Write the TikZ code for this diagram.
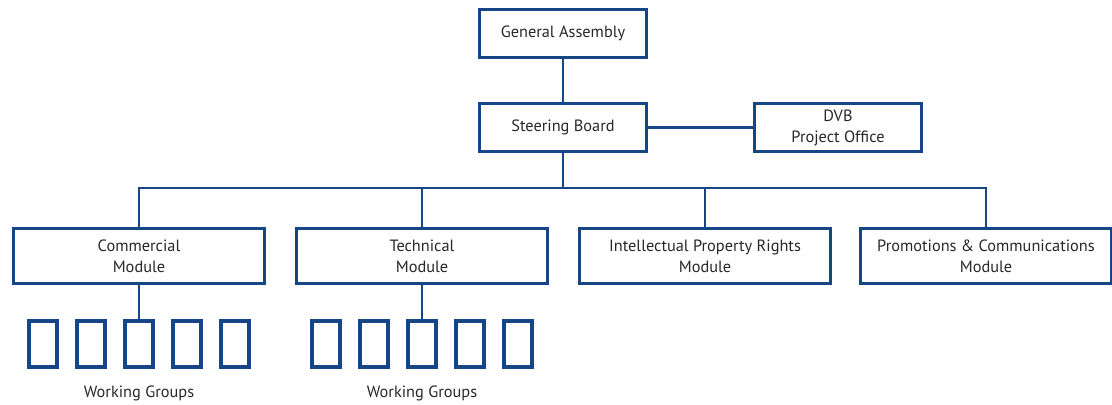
\documentclass[tikz,border=0pt]{standalone}
\usepackage{fontspec}
\setmainfont{PT Sans}
\usepackage{tikz}
\usetikzlibrary{positioning,calc}
\definecolor{navy}{RGB}{22,70,134}
\definecolor{ink}{RGB}{40,40,40}

\begin{document}
\begin{tikzpicture}[x=0.02cm,y=-0.02cm,
    unit/.style={draw=navy,line width=2.1pt,fill=white,text=ink,align=center,
      font=\fontsize{9.3}{12}\selectfont,inner sep=0pt},
    topbox/.style={unit,minimum width=3.34cm,minimum height=0.96cm},
    modbox/.style={unit,minimum width=5.02cm,minimum height=1.1cm},
    wgbox/.style={draw=navy,line width=2.1pt,minimum width=0.57cm,minimum height=0.93cm,inner sep=0pt},
    link/.style={draw=navy,line width=1.3pt}]
    \useasboundingbox (0,0) rectangle (1112,405);
    % top of the tree
    \node[topbox] (ga) at (563,33.5) {General Assembly};
    \node[topbox] (sb) at (563,127.5) {Steering Board};
    \node[topbox] (dvb) at (838,127.5) {DVB\\Project Office};
    % modules
    \node[modbox] (com) at (139,256) {Commercial\\Module};
    \node[modbox] (tec) at (422,256) {Technical\\Module};
    \node[modbox] (ipr) at (705,256) {Intellectual Property Rights\\Module};
    \node[modbox] (pc) at (986,256) {Promotions \& Communications\\Module};
    \coordinate (bus) at (563,188);
    % working groups
    \foreach \m in {com,tec}{
      \foreach \i in {1,...,5}{
        \node[wgbox] (wg-\m-\i) at ($(\m)+({(\i-3)*48},88)$) {};
      }
      \node[text=ink,font=\fontsize{9.3}{12}\selectfont] (lab-\m) at ($(\m)+(0,137)$) {Working Groups};
    }
    \draw[link] (ga) -- (sb);
    \draw[link] (sb) -- (dvb);
    \draw[link] (sb) -- (bus);
    \draw[link] (com.north) |- (bus) -| (pc.north);
    \draw[link] (tec.north) -- (tec.north |- bus);
    \draw[link] (ipr.north) -- (ipr.north |- bus);
    \draw[link] (com) -- (wg-com-3);
    \draw[link] (tec) -- (wg-tec-3);
\end{tikzpicture}
\end{document}
